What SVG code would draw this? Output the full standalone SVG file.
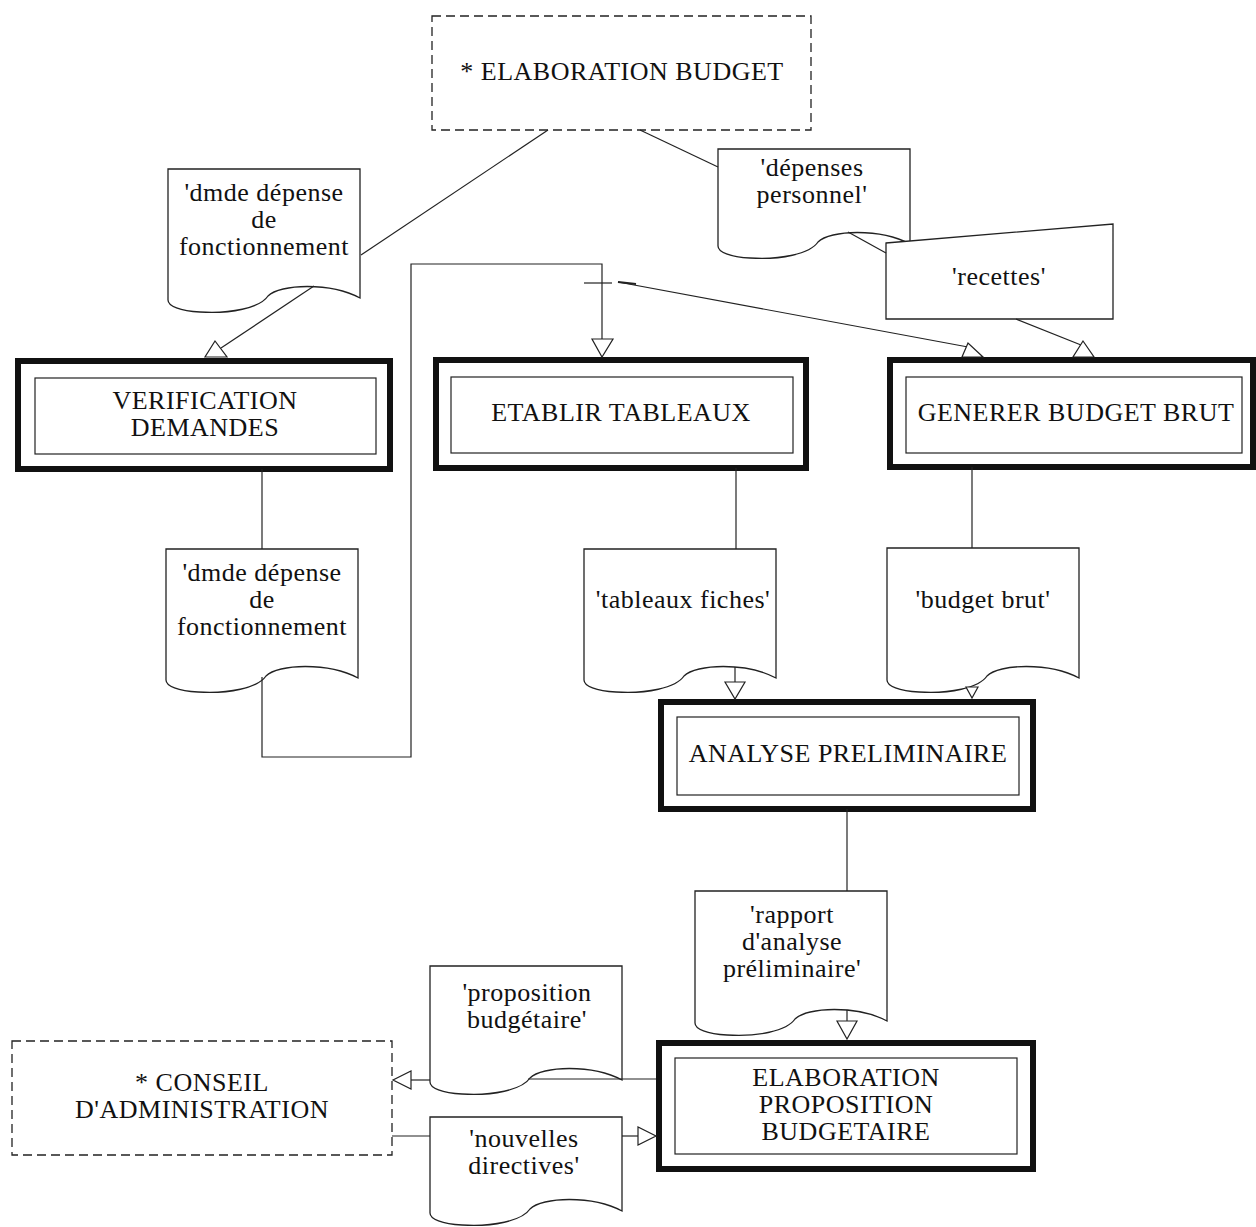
<svg xmlns="http://www.w3.org/2000/svg" width="1256" height="1227" viewBox="0 0 1256 1227">
<style>
.t{font-family:"Liberation Serif","Times New Roman",serif;font-size:26px;letter-spacing:0.5px;fill:#111;text-anchor:middle}
.ext{fill:#fff;stroke:#222;stroke-width:1.3;stroke-dasharray:9 5}
.po{fill:#fff;stroke:#111;stroke-width:6}
.pi{fill:none;stroke:#222;stroke-width:1.2}
.doc{fill:#fff;stroke:#222;stroke-width:1.3}
.ln{fill:none;stroke:#222;stroke-width:1.2}
.ah{fill:#fff;stroke:#222;stroke-width:1.2;stroke-linejoin:miter}
</style>
<rect width="1256" height="1227" fill="#fff"/>
<g id="nodes">
 <g id="ext-elaboration-budget">
  <rect class="ext" x="432" y="16" width="379" height="114"/>
  <text class="t" x="622" y="80">* ELABORATION BUDGET</text>
 </g>
 <g id="doc-dmde1">
  <path class="doc" d="M168,169 h192 v129 c-30,-16 -80,-14 -92,-2 c-8,12 -38,18 -68,16 c-20,-1 -32,-6 -32,-12 z"/>
  <text class="t" x="264" y="201">'dmde dépense</text>
  <text class="t" x="264" y="228">de</text>
  <text class="t" x="264" y="255">fonctionnement</text>
 </g>
 <g id="doc-depenses">
  <path class="doc" d="M718,149 h192 v95 c-30,-16 -80,-14 -92,-2 c-8,12 -38,18 -68,16 c-20,-1 -32,-6 -32,-12 z"/>
  <text class="t" x="812" y="176">'dépenses</text>
  <text class="t" x="812" y="203">personnel'</text>
 </g>
 <g id="recettes">
  <path class="doc" d="M886,243 L1113,224 L1113,319 L886,319 Z"/>
  <text class="t" x="999" y="285">'recettes'</text>
 </g>
 <g id="proc-verification">
  <rect class="po" x="18" y="361" width="372" height="108"/>
  <rect class="pi" x="35" y="378" width="341" height="76"/>
  <text class="t" x="205" y="409">VERIFICATION</text>
  <text class="t" x="205" y="436">DEMANDES</text>
 </g>
 <g id="proc-etablir">
  <rect class="po" x="436" y="360" width="370" height="108"/>
  <rect class="pi" x="451" y="377" width="342" height="76"/>
  <text class="t" x="621" y="421">ETABLIR TABLEAUX</text>
 </g>
 <g id="proc-generer">
  <rect class="po" x="890" y="360" width="363" height="107"/>
  <rect class="pi" x="906" y="377" width="336" height="76"/>
  <text class="t" x="1076" y="421">GENERER BUDGET BRUT</text>
 </g>
 <g id="doc-dmde2">
  <path class="doc" d="M166,549 h192 v129 c-30,-16 -80,-14 -92,-2 c-8,12 -38,18 -68,16 c-20,-1 -32,-6 -32,-12 z"/>
  <text class="t" x="262" y="581">'dmde dépense</text>
  <text class="t" x="262" y="608">de</text>
  <text class="t" x="262" y="635">fonctionnement</text>
 </g>
 <g id="doc-tableaux">
  <path class="doc" d="M584,549 h192 v129 c-30,-16 -80,-14 -92,-2 c-8,12 -38,18 -68,16 c-20,-1 -32,-6 -32,-12 z"/>
  <text class="t" x="683" y="608">'tableaux fiches'</text>
 </g>
 <g id="doc-budget-brut">
  <path class="doc" d="M887,548 h192 v130 c-30,-16 -80,-14 -92,-2 c-8,12 -38,18 -68,16 c-20,-1 -32,-6 -32,-12 z"/>
  <text class="t" x="983" y="608">'budget brut'</text>
 </g>
 <g id="proc-analyse">
  <rect class="po" x="661" y="702" width="372" height="107"/>
  <rect class="pi" x="677" y="717" width="342" height="78"/>
  <text class="t" x="848" y="762">ANALYSE PRELIMINAIRE</text>
 </g>
 <g id="doc-rapport">
  <path class="doc" d="M695,891 h192 v130 c-30,-16 -80,-14 -92,-2 c-8,12 -38,18 -68,16 c-20,-1 -32,-6 -32,-12 z"/>
  <text class="t" x="792" y="923">'rapport</text>
  <text class="t" x="792" y="950">d'analyse</text>
  <text class="t" x="792" y="977">préliminaire'</text>
 </g>
 <g id="doc-proposition">
  <path class="doc" d="M430,966 h192 v114 c-30,-16 -80,-14 -92,-2 c-8,12 -38,18 -68,16 c-20,-1 -32,-6 -32,-12 z"/>
  <text class="t" x="527" y="1001">'proposition</text>
  <text class="t" x="527" y="1028">budgétaire'</text>
 </g>
 <g id="doc-nouvelles">
  <path class="doc" d="M430,1117 h192 v94 c-30,-16 -80,-14 -92,-2 c-8,12 -38,18 -68,16 c-20,-1 -32,-6 -32,-12 z"/>
  <text class="t" x="524" y="1147">'nouvelles</text>
  <text class="t" x="524" y="1174">directives'</text>
 </g>
 <g id="proc-elaboration-proposition">
  <rect class="po" x="659" y="1043" width="374" height="126"/>
  <rect class="pi" x="675" y="1058" width="342" height="96"/>
  <text class="t" x="846" y="1086">ELABORATION</text>
  <text class="t" x="846" y="1113">PROPOSITION</text>
  <text class="t" x="846" y="1140">BUDGETAIRE</text>
 </g>
 <g id="ext-conseil">
  <rect class="ext" x="12" y="1041" width="380" height="114"/>
  <text class="t" x="202" y="1091">* CONSEIL</text>
  <text class="t" x="202" y="1118">D'ADMINISTRATION</text>
 </g>
</g>
<g id="connectors">
 <line class="ln" x1="548" y1="130" x2="361" y2="255"/>
 <line class="ln" x1="640" y1="130" x2="718" y2="167"/>
 <line class="ln" x1="314" y1="286" x2="221" y2="348"/>
 <polygon class="ah" points="205,357 227,357 215,341"/>
 <line class="ln" x1="262" y1="469" x2="262" y2="549"/>
 <polyline class="ln" points="262,677 262,757 411,757 411,264 602,264 602,339"/>
 <polygon class="ah" points="592,339 613,339 602,357"/>
 <line class="ln" x1="584" y1="283" x2="612" y2="283"/>
 <line class="ln" x1="618" y1="282" x2="636" y2="284" style="stroke-width:1.8"/>
 <line class="ln" x1="618" y1="282" x2="968" y2="347"/>
 <polygon class="ah" points="962,357 983,357 968,343"/>
 <line class="ln" x1="848" y1="232" x2="886" y2="253"/>
 <line class="ln" x1="1016" y1="319" x2="1081" y2="345"/>
 <polygon class="ah" points="1073,357 1094,357 1083,341"/>
 <line class="ln" x1="736" y1="468" x2="736" y2="549"/>
 <line class="ln" x1="735" y1="667" x2="735" y2="682"/>
 <polygon class="ah" points="725,682 745,682 735,699"/>
 <line class="ln" x1="972" y1="467" x2="972" y2="548"/>
 <polygon class="ah" points="966,687 978,687 972,698"/>
 <line class="ln" x1="847" y1="809" x2="847" y2="891"/>
 <line class="ln" x1="847" y1="1010" x2="847" y2="1021"/>
 <polygon class="ah" points="837,1021 857,1021 847,1039"/>
 <line class="ln" x1="656" y1="1079" x2="528" y2="1079"/>
 <line class="ln" x1="430" y1="1080" x2="411" y2="1080"/>
 <polygon class="ah" points="411,1071 411,1089 393,1080"/>
 <line class="ln" x1="392" y1="1136" x2="430" y2="1136"/>
 <line class="ln" x1="622" y1="1136" x2="638" y2="1136"/>
 <polygon class="ah" points="638,1127 638,1145 656,1136"/>
</g>
</svg>
